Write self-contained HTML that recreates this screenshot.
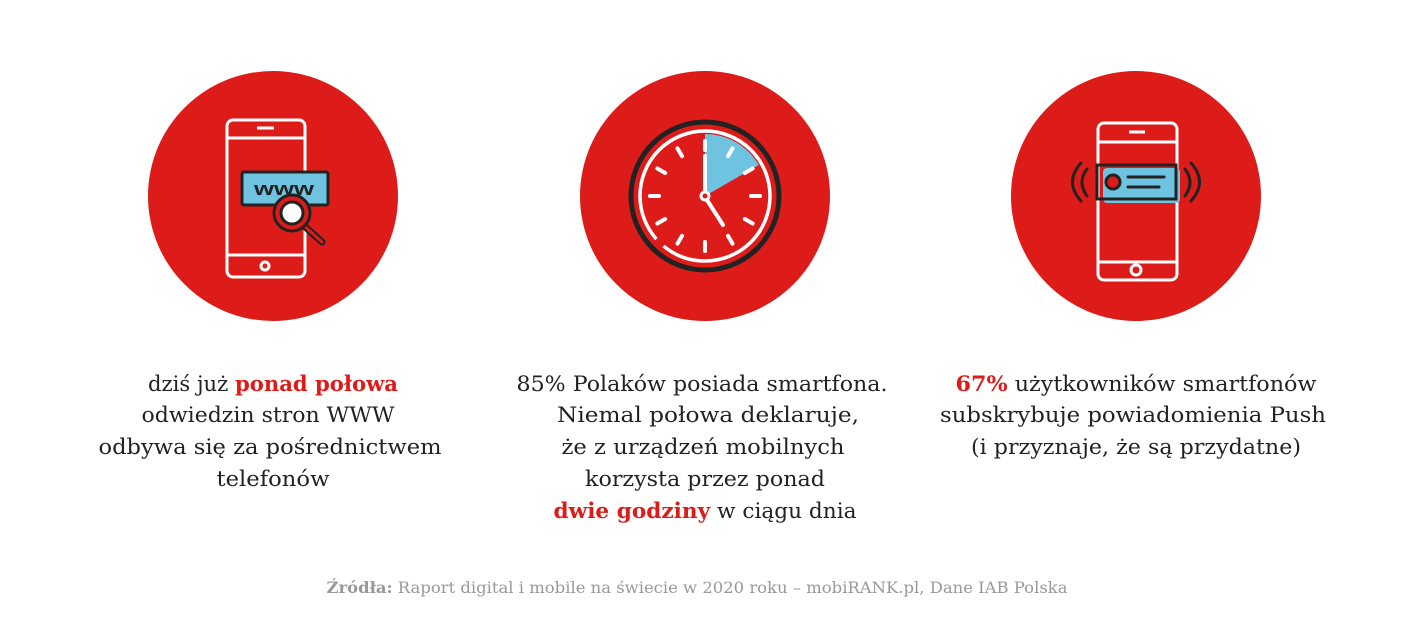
<!DOCTYPE html>
<html><head><meta charset="utf-8"><style>
html,body{margin:0;padding:0;background:#fff;}
svg{display:block;}
text{font-family:"DejaVu Serif","Liberation Serif",serif;font-size:21px;fill:#222;}
.r{fill:#dd1c1a;font-weight:bold;}
</style></head><body>
<svg width="1422" height="622" viewBox="0 0 1422 622" xmlns="http://www.w3.org/2000/svg">
<rect width="1422" height="622" fill="#fff"/>
<circle cx="273" cy="196" r="125" fill="#dd1c1a"/>
<circle cx="705" cy="196" r="125" fill="#dd1c1a"/>
<circle cx="1136" cy="196" r="125" fill="#dd1c1a"/>

<!-- icon 1 -->
<g fill="none" stroke="#fff" stroke-width="3">
<rect x="227" y="120" width="78" height="157" rx="6"/>
<line x1="227" y1="138" x2="305" y2="138"/>
<line x1="227" y1="255" x2="305" y2="255"/>
<line x1="257" y1="128" x2="274" y2="128"/>
<circle cx="265" cy="266" r="4"/>
</g>
<rect x="242" y="172" width="86" height="33" rx="2" fill="#6ec4e0" stroke="#222" stroke-width="3"/>
<text x="284" y="195" text-anchor="middle" style="font-family:'Liberation Sans',sans-serif;font-weight:bold;font-size:18px;fill:#222" textLength="60" lengthAdjust="spacingAndGlyphs">www</text>
<line x1="302" y1="224" x2="322" y2="242" stroke="#222" stroke-width="7" stroke-linecap="round"/>
<line x1="302" y1="224" x2="322" y2="242" stroke="#dd1c1a" stroke-width="3" stroke-linecap="round"/>
<circle cx="292" cy="213" r="18" fill="#dd1c1a" stroke="#222" stroke-width="3"/>
<circle cx="292" cy="213" r="11" fill="#fff" stroke="#222" stroke-width="3"/>

<!-- icon 2 clock -->
<circle cx="705" cy="196" r="74" fill="none" stroke="#222" stroke-width="5"/>
<path d="M705 196 L705 134 A62 62 0 0 1 758.7 165 Z" fill="#6ec4e0"/>
<circle cx="705" cy="196" r="65" fill="none" stroke="#fff" stroke-width="3.5" stroke-dasharray="147 10 260"/>
<g stroke="#fff" stroke-width="4" stroke-linecap="round" transform="translate(705 196)">
<line x1="0" y1="-46" x2="0" y2="-55" transform="rotate(0)"/>
<line x1="0" y1="-46" x2="0" y2="-55" transform="rotate(30)"/>
<line x1="0" y1="-46" x2="0" y2="-55" transform="rotate(60)"/>
<line x1="0" y1="-46" x2="0" y2="-55" transform="rotate(90)"/>
<line x1="0" y1="-46" x2="0" y2="-55" transform="rotate(120)"/>
<line x1="0" y1="-46" x2="0" y2="-55" transform="rotate(150)"/>
<line x1="0" y1="-46" x2="0" y2="-55" transform="rotate(180)"/>
<line x1="0" y1="-46" x2="0" y2="-55" transform="rotate(210)"/>
<line x1="0" y1="-46" x2="0" y2="-55" transform="rotate(240)"/>
<line x1="0" y1="-46" x2="0" y2="-55" transform="rotate(270)"/>
<line x1="0" y1="-46" x2="0" y2="-55" transform="rotate(300)"/>
<line x1="0" y1="-46" x2="0" y2="-55" transform="rotate(330)"/>
<line x1="0" y1="-4" x2="0" y2="-40"/>
<line x1="2" y1="4" x2="18" y2="29"/>
</g>
<circle cx="705" cy="196" r="4" fill="#dd1c1a" stroke="#fff" stroke-width="3"/>

<!-- icon 3 -->
<g fill="none" stroke="#fff" stroke-width="3">
<rect x="1098" y="123" width="79" height="157" rx="6"/>
<line x1="1098" y1="142" x2="1177" y2="142"/>
<line x1="1098" y1="262" x2="1177" y2="262"/>
<line x1="1129" y1="132" x2="1145" y2="132"/>
<circle cx="1136" cy="270" r="5"/>
</g>
<rect x="1103" y="168" width="77" height="35" rx="4" fill="#6ec4e0"/>
<rect x="1097" y="165" width="79" height="34" fill="none" stroke="#222" stroke-width="3"/>
<circle cx="1113" cy="182" r="7" fill="#dd1c1a" stroke="#222" stroke-width="3"/>
<g stroke="#222" stroke-width="3" fill="none" stroke-linecap="round">
<line x1="1128" y1="177" x2="1164" y2="177"/>
<line x1="1128" y1="187" x2="1159" y2="187"/>
<path d="M1087 169 Q1077 182 1087 196"/>
<path d="M1081 163 Q1064 182 1081 201"/>
<path d="M1185 169 Q1195 182 1185 196"/>
<path d="M1191 163 Q1208 182 1191 201"/>
</g>

<!-- texts -->
<text x="273" y="391" text-anchor="middle" textLength="250" lengthAdjust="spacingAndGlyphs">dziś już <tspan class="r">ponad połowa</tspan></text>
<text x="268" y="422" text-anchor="middle" textLength="253" lengthAdjust="spacingAndGlyphs">odwiedzin stron WWW</text>
<text x="270" y="454" text-anchor="middle" textLength="343" lengthAdjust="spacingAndGlyphs">odbywa się za pośrednictwem</text>
<text x="273" y="486" text-anchor="middle" textLength="113" lengthAdjust="spacingAndGlyphs">telefonów</text>

<text x="702" y="391" text-anchor="middle" textLength="371" lengthAdjust="spacingAndGlyphs">85% Polaków posiada smartfona.</text>
<text x="708" y="422" text-anchor="middle" textLength="302" lengthAdjust="spacingAndGlyphs">Niemal połowa deklaruje,</text>
<text x="703" y="454" text-anchor="middle" textLength="283" lengthAdjust="spacingAndGlyphs">że z urządzeń mobilnych</text>
<text x="705" y="486" text-anchor="middle" textLength="240" lengthAdjust="spacingAndGlyphs">korzysta przez ponad</text>
<text x="705" y="518" text-anchor="middle" textLength="303" lengthAdjust="spacingAndGlyphs"><tspan class="r">dwie godziny</tspan> w ciągu dnia</text>

<text x="1136" y="391" text-anchor="middle" textLength="361" lengthAdjust="spacingAndGlyphs"><tspan class="r">67%</tspan> użytkowników smartfonów</text>
<text x="1133" y="422" text-anchor="middle" textLength="386" lengthAdjust="spacingAndGlyphs">subskrybuje powiadomienia Push</text>
<text x="1136" y="454" text-anchor="middle" textLength="330" lengthAdjust="spacingAndGlyphs">(i przyznaje, że są przydatne)</text>

<text x="697" y="593" text-anchor="middle" style="font-size:16px;fill:#999" textLength="741" lengthAdjust="spacingAndGlyphs"><tspan style="font-weight:bold;fill:#999">Źródła:</tspan> Raport digital i mobile na świecie w 2020 roku – mobiRANK.pl, Dane IAB Polska</text>
</svg>
</body></html>
